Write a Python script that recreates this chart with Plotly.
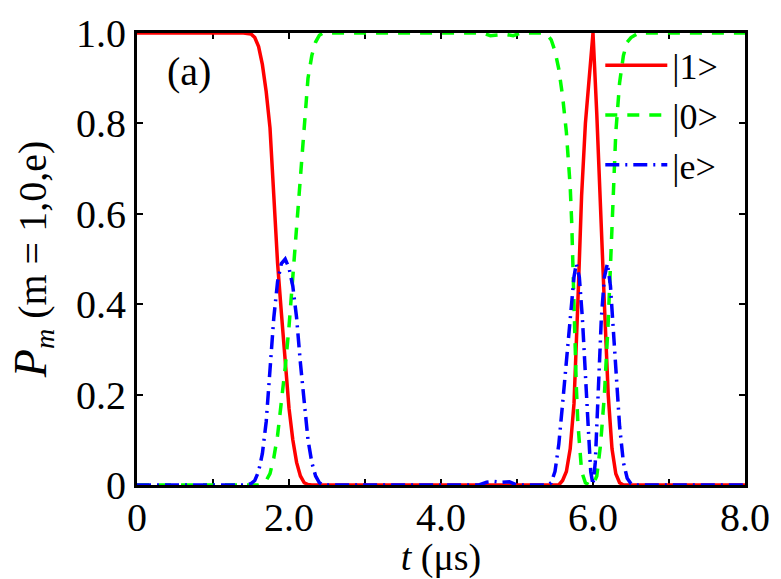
import plotly.graph_objects as go

# ---------------- data ----------------
t_one = [0, 1.40, 1.50, 1.55, 1.60, 1.65, 1.70, 1.75, 1.80, 1.85, 1.90, 1.95, 2.00,
         2.05, 2.10, 2.15, 2.20, 2.25, 2.30, 5.50, 5.55, 5.60, 5.65, 5.70, 5.75,
         5.80, 5.85, 5.90, 5.95, 6.00, 6.05, 6.10, 6.15, 6.20, 6.25, 6.30, 6.35,
         6.40, 8.0]
p_one = [1, 1, 0.998, 0.99, 0.97, 0.93, 0.87, 0.79, 0.64, 0.49, 0.38, 0.28, 0.17,
         0.10, 0.05, 0.02, 0.005, 0.001, 0, 0, 0, 0.01, 0.03, 0.08, 0.18,
         0.40, 0.64, 0.80, 0.91, 1.0, 0.82, 0.63, 0.40, 0.20, 0.08, 0.025, 0.005,
         0, 0]

t_zero = [0, 1.60, 1.65, 1.70, 1.75, 1.80, 1.85, 1.90, 1.95, 2.00, 2.05, 2.10,
          2.15, 2.20, 2.25, 2.30, 2.35, 2.40, 2.45, 2.50, 4.55, 4.65, 4.75, 4.85,
          4.95, 5.05, 5.35, 5.40, 5.45, 5.50, 5.55, 5.60, 5.65, 5.70, 5.72, 5.75,
          5.78, 5.80, 5.85, 5.90, 5.95, 6.00, 6.05, 6.10, 6.15, 6.20, 6.25, 6.30,
          6.35, 6.40, 6.45, 6.50, 6.55, 6.60, 8.0]
p_zero = [0, 0, 0.003, 0.01, 0.025, 0.06, 0.11, 0.18, 0.26, 0.35, 0.46, 0.58,
          0.70, 0.81, 0.90, 0.95, 0.98, 0.995, 1.0, 1.0, 1.0, 0.994, 0.996, 0.997,
          0.994, 1.0, 1.0, 0.995, 0.985, 0.96, 0.92, 0.86, 0.78, 0.66, 0.58, 0.38,
          0.22, 0.14, 0.03, 0.005, 0.0, 0.0, 0.02, 0.09, 0.20, 0.36, 0.55, 0.78,
          0.89, 0.95, 0.98, 0.99, 0.995, 1.0, 1.0]

t_exc = [0, 1.40, 1.50, 1.55, 1.60, 1.65, 1.70, 1.75, 1.80, 1.85, 1.90, 1.95,
         2.00, 2.05, 2.10, 2.15, 2.20, 2.25, 2.30, 2.35, 2.40, 2.45, 4.50, 4.60,
         4.70, 4.80, 4.90, 5.00, 5.40, 5.45, 5.50, 5.55, 5.60, 5.65, 5.70, 5.75,
         5.78, 5.82, 5.86, 5.90, 5.94, 5.97, 6.00, 6.03, 6.07, 6.11, 6.15, 6.19,
         6.23, 6.27, 6.31, 6.35, 6.40, 6.45, 6.50, 6.55, 8.0]
p_exc = [0, 0, 0.003, 0.01, 0.03, 0.07, 0.14, 0.25, 0.37, 0.45, 0.49, 0.50,
         0.48, 0.44, 0.37, 0.27, 0.18, 0.10, 0.05, 0.02, 0.005, 0, 0, 0.006,
         0.008, 0.006, 0.007, 0, 0, 0.005, 0.03, 0.09, 0.18, 0.28, 0.37, 0.46,
         0.49, 0.46, 0.37, 0.26, 0.12, 0.03, 0.0, 0.05, 0.20, 0.37, 0.46, 0.49,
         0.44, 0.33, 0.22, 0.13, 0.05, 0.015, 0.003, 0, 0]

names = ["|1>", "|0>", "|e>"]
x_tickvals = [0, 1, 2, 3, 4, 5, 6, 7, 8]
x_ticktext = ["0", " ", "2.0", " ", "4.0", " ", "6.0", " ", "8.0"]
y_tickvals = [0, 0.2, 0.4, 0.6, 0.8, 1.0]
y_ticktext = ["0", "0.2", "0.4", "0.6", "0.8", "1.0"]

FONT = "Liberation Serif, Times New Roman, serif"
FS = 40

fig = go.Figure()
fig.add_trace(go.Scatter(x=t_one, y=p_one, mode="lines", name=names[0],
                         line=dict(color="#ff0000", width=3.5)))
fig.add_trace(go.Scatter(x=t_zero, y=p_zero, mode="lines", name=names[1],
                         line=dict(color="#00ff00", width=3.5, dash="12px,10px")))
fig.add_trace(go.Scatter(x=t_exc, y=p_exc, mode="lines", name=names[2],
                         line=dict(color="#0000ff", width=3.5, dash="14px,6px,2px,6px")))

axis_common = dict(showline=True, linecolor="black", linewidth=3, mirror="allticks",
                   ticks="inside", ticklen=6, tickwidth=2, tickcolor="black",
                   showgrid=False, zeroline=False, layer="below traces",
                   automargin=False,
                   tickfont=dict(family=FONT, size=FS, color="black"))

fig.update_layout(
    width=781, height=579,
    margin=dict(l=137, r=36, t=33, b=94, autoexpand=False),
    paper_bgcolor="white", plot_bgcolor="white",
    font=dict(family=FONT, size=FS, color="black"),
    xaxis=dict(range=[0, 8], tickvals=x_tickvals, ticktext=x_ticktext,
               ticklabelstandoff=-5,
               title=dict(text="<i>t</i> (μs)", font=dict(family=FONT, size=38)),
               **axis_common),
    yaxis=dict(range=[0, 1], tickvals=y_tickvals, ticktext=y_ticktext,
               title=dict(text="<span style='font-size:46px'><i>P</i></span><sub><i>m</i></sub> (m = 1,0,e)",
                          font=dict(family=FONT, size=FS), standoff=18),
               **axis_common),
    legend=dict(x=0.762, y=0.995, xanchor="left", yanchor="top",
                bgcolor="rgba(0,0,0,0)", borderwidth=0,
                font=dict(family=FONT, size=36), itemwidth=62,
                tracegroupgap=0),
    showlegend=True,
    annotations=[dict(text="(a)", x=0.046, y=0.915, xref="paper", yref="paper",
                      xanchor="left", yanchor="middle", showarrow=False,
                      font=dict(family=FONT, size=FS))],
)

fig.write_html("out.html")
